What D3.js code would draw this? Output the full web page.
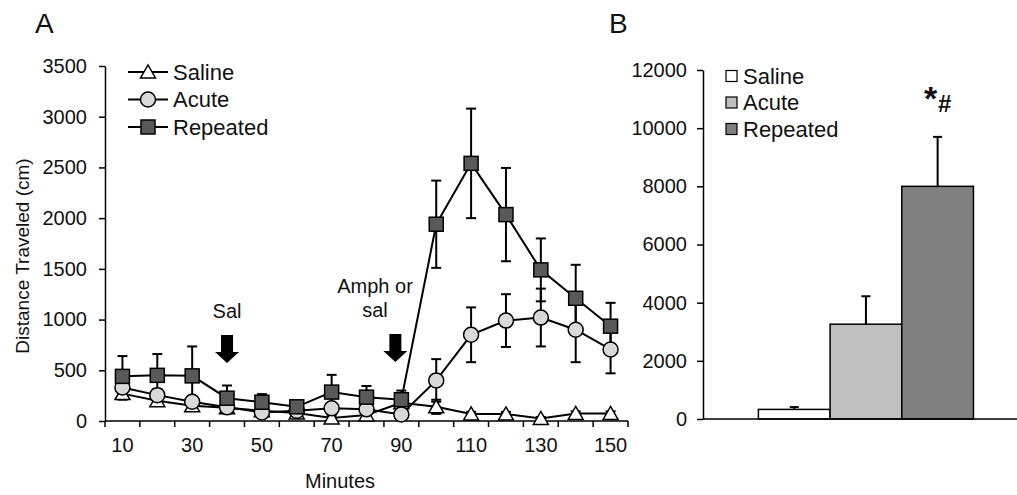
<!DOCTYPE html>
<html>
<head>
<meta charset="utf-8">
<script src="https://cdnjs.cloudflare.com/ajax/libs/d3/7.8.5/d3.min.js"></script>
<style>
  body { margin: 0; background: #fff; }
  svg { font-family: "Liberation Sans", Arial, sans-serif; }
  text { fill: #111; }
</style>
</head>
<body>
<svg width="1017" height="495"></svg>
<script>
// panel A : time course
let minutes = [10, 20, 30, 40, 50, 60, 70, 80, 90, 100, 110, 120, 130, 140, 150];
let minuteLabels = [10, 30, 50, 70, 90, 110, 130, 150];
let saline      = [270, 200, 150, 130, 100, 80, 30, 60, 180, 140, 70, 70, 25, 75, 75];
let salineErr   = [60, 50, 40, 30, 30, 20, 20, 30, 40, 70, 20, 20, 15, 20, 20];
let acute       = [330, 255, 190, 135, 85, 100, 125, 115, 65, 400, 850, 990, 1020, 900, 705];
let acuteErr    = [70, 60, 50, 40, 30, 30, 40, 40, 30, 210, 270, 260, 285, 320, 235];
let repeated    = [440, 450, 445, 225, 185, 140, 285, 235, 210, 1940, 2540, 2035, 1490, 1210, 935];
let repeatedErr = [200, 210, 290, 125, 80, 60, 170, 110, 90, 430, 540, 460, 310, 330, 230];
let yTicksA = [0, 500, 1000, 1500, 2000, 2500, 3000, 3500];

// panel B : totals
let groups = ["Saline", "Acute", "Repeated"];
let totals = [330, 3260, 8000];
let totalsErr = [80, 960, 1700];
let yTicksB = [0, 2000, 4000, 6000, 8000, 10000, 12000];

let colors = { Saline: "#ffffff", Acute: "#d9d9d9", Repeated: "#595959" };
let barColors = { Saline: "#ffffff", Acute: "#bfbfbf", Repeated: "#808080" };

let svg = d3.select("svg");

/* ---------- panel A ---------- */
let xA = d3.scaleBand().domain(minutes).range([105, 628]);
let yA = d3.scaleLinear().domain([0, 3500]).range([421, 66]);
let cx = function(m) { return xA(m) + xA.bandwidth() / 2; };

let gA = svg.append("g");

// y axis
let yAxisA = d3.axisLeft(yA).tickValues(yTicksA).tickFormat(d3.format("d"))
  .tickSize(6).tickSizeOuter(0).tickPadding(12);
gA.append("g").attr("transform", "translate(105,0)").call(yAxisA);

// x axis : line, ticks on band edges, labels every other band
gA.append("line")
  .attr("x1", xA.range()[0]).attr("x2", xA.range()[1])
  .attr("y1", yA(0)).attr("y2", yA(0))
  .attr("stroke", "#000").attr("stroke-width", 1.5);
let edges = minutes.map(m => xA(m)).concat([xA.range()[1]]);
gA.selectAll("line.xtick").data(edges).enter().append("line")
  .attr("class", "xtick")
  .attr("x1", d => d).attr("x2", d => d)
  .attr("y1", yA(0)).attr("y2", yA(0) + 6)
  .attr("stroke", "#000").attr("stroke-width", 1.5);
gA.selectAll("text.xlab").data(minuteLabels).enter().append("text")
  .attr("class", "xlab")
  .attr("x", d => cx(d))
  .attr("y", yA(0) + 31)
  .attr("text-anchor", "middle")
  .style("font-size", "20px")
  .text(d => d);

let series = [
  { name: "Saline", values: saline, err: salineErr, shape: "tri" },
  { name: "Acute", values: acute, err: acuteErr, shape: "circle" },
  { name: "Repeated", values: repeated, err: repeatedErr, shape: "square" }
];

// error bars first
series.forEach(function(s) {
  let g = gA.append("g").attr("stroke", "#000").attr("stroke-width", 2);
  s.values.forEach(function(v, i) {
    let x = cx(minutes[i]);
    let top = yA(v + s.err[i]), bot = yA(Math.max(0, v - s.err[i]));
    g.append("line").attr("x1", x).attr("x2", x).attr("y1", top).attr("y2", bot);
    g.append("line").attr("x1", x - 5).attr("x2", x + 5).attr("y1", top).attr("y2", top);
    g.append("line").attr("x1", x - 5).attr("x2", x + 5).attr("y1", bot).attr("y2", bot);
  });
});

let line = d3.line().x((d, i) => cx(minutes[i])).y(d => yA(d));

function marker(sel, shape, fill) {
  if (shape === "tri") {
    sel.append("path").attr("d", "M0,-7L7.5,6L-7.5,6Z");
  } else if (shape === "circle") {
    sel.append("circle").attr("r", 7.5);
  } else {
    sel.append("rect").attr("x", -7).attr("y", -7).attr("width", 14).attr("height", 14);
  }
  sel.selectAll("path,circle,rect").attr("fill", fill).attr("stroke", "#000").attr("stroke-width", 1.5);
}

series.forEach(function(s) {
  gA.append("path").datum(s.values)
    .attr("d", line).attr("fill", "none")
    .attr("stroke", "#000").attr("stroke-width", 2);
});
series.forEach(function(s) {
  s.values.forEach(function(v, i) {
    let m = gA.append("g").attr("transform", "translate(" + cx(minutes[i]) + "," + yA(v) + ")");
    marker(m, s.shape, colors[s.name]);
  });
});

// arrows + notes
function arrow(x, yTop) {
  gA.append("path")
    .attr("d", "M" + (x - 6) + "," + yTop + "h12v17h6l-12,11l-12,-11h6z")
    .attr("fill", "#000");
}
arrow(cx(40), 335);
arrow(cx(90) - 6, 334);
gA.append("text").attr("x", cx(40)).attr("y", 318).attr("text-anchor", "middle")
  .style("font-size", "20px").text("Sal");
gA.append("text").attr("x", 375).attr("y", 293).attr("text-anchor", "middle")
  .style("font-size", "20px").text("Amph or");
gA.append("text").attr("x", 375).attr("y", 317).attr("text-anchor", "middle")
  .style("font-size", "20px").text("sal");

// legend A
series.forEach(function(s, i) {
  let y = 72 + i * 27.5;
  gA.append("line").attr("x1", 128).attr("x2", 168).attr("y1", y).attr("y2", y)
    .attr("stroke", "#000").attr("stroke-width", 2);
  let m = gA.append("g").attr("transform", "translate(148," + y + ")");
  marker(m, s.shape, colors[s.name]);
  gA.append("text").attr("x", 173).attr("y", y + 7.5)
    .style("font-size", "22px").text(s.name);
});

// axis titles
gA.append("text").attr("transform", "translate(29,256) rotate(-90)")
  .attr("text-anchor", "middle").style("font-size", "19px").text("Distance Traveled (cm)");
gA.append("text").attr("x", 340).attr("y", 488).attr("text-anchor", "middle")
  .style("font-size", "20px").text("Minutes");
gA.append("text").attr("x", 35).attr("y", 33).style("font-size", "28px").text("A");

/* ---------- panel B ---------- */
let xB = d3.scaleBand().domain(groups).range([703, 1017]).paddingInner(0).paddingOuter(0.69).align(0.56);
let yB = d3.scaleLinear().domain([0, 12000]).range([419, 70]);

let gB = svg.append("g");
let yAxisB = d3.axisLeft(yB).tickValues(yTicksB).tickFormat(d3.format("d"))
  .tickSize(6).tickSizeOuter(0).tickPadding(10);
gB.append("g").attr("transform", "translate(703,0)").call(yAxisB);

// error bars (upper only)
gB.selectAll("g.err").data(groups).enter().append("g").attr("class", "err")
  .each(function(d, i) {
    let x = xB(d) + xB.bandwidth() / 2;
    let g = d3.select(this).attr("stroke", "#000").attr("stroke-width", 2);
    g.append("line").attr("x1", x).attr("x2", x).attr("y1", yB(totals[i])).attr("y2", yB(totals[i] + totalsErr[i]));
    g.append("line").attr("x1", x - 4.5).attr("x2", x + 4.5)
      .attr("y1", yB(totals[i] + totalsErr[i])).attr("y2", yB(totals[i] + totalsErr[i]));
  });

gB.selectAll("rect.bar").data(groups).enter().append("rect")
  .attr("class", "bar")
  .attr("x", d => xB(d))
  .attr("width", xB.bandwidth())
  .attr("y", (d, i) => yB(totals[i]))
  .attr("height", (d, i) => yB(0) - yB(totals[i]))
  .attr("fill", d => barColors[d])
  .attr("stroke", "#000").attr("stroke-width", 1.5);

gB.append("line").attr("x1", 703).attr("x2", 1017).attr("y1", yB(0)).attr("y2", yB(0))
  .attr("stroke", "#000").attr("stroke-width", 1.5);

// significance marks over repeated
let xr = xB("Repeated") + xB.bandwidth() / 2;
gB.append("text").attr("x", xr - 7).attr("y", 110).attr("text-anchor", "middle")
  .style("font-size", "34px").style("font-weight", "bold").text("*");
gB.append("text").attr("x", xr + 7).attr("y", 112).attr("text-anchor", "middle")
  .style("font-size", "24px").style("font-weight", "bold").text("#");

// legend B
groups.forEach(function(g, i) {
  let y = 76 + i * 26.5;
  gB.append("rect").attr("x", 726).attr("y", y - 5.5).attr("width", 11).attr("height", 11)
    .attr("fill", barColors[g]).attr("stroke", "#000").attr("stroke-width", 1.2);
  gB.append("text").attr("x", 743).attr("y", y + 7.5).style("font-size", "22px").text(g);
});

gB.append("text").attr("x", 609).attr("y", 33).style("font-size", "28px").text("B");

// axis styling
svg.selectAll(".domain").attr("stroke", "#000").attr("stroke-width", 1.5);
svg.selectAll(".tick line").attr("stroke", "#000").attr("stroke-width", 1.5);
svg.selectAll(".tick text").style("font-size", "20px").attr("fill", "#111")
  .style("font-family", "'Liberation Sans', Arial, sans-serif");
</script>
</body>
</html>
